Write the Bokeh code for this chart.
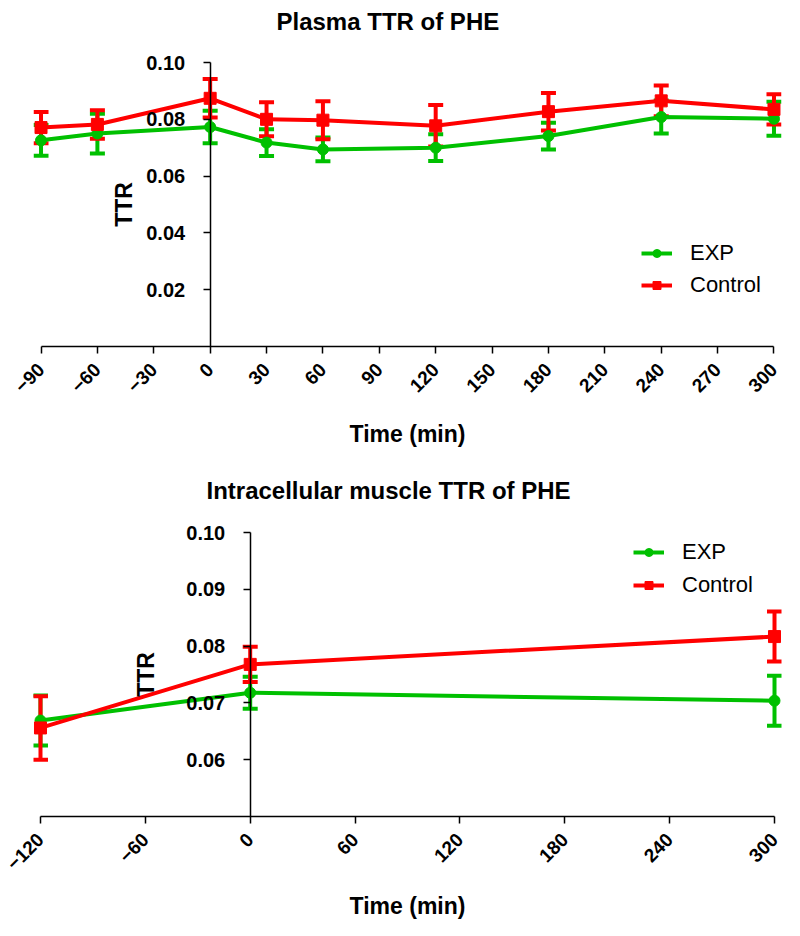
import math
from bokeh.plotting import figure
from bokeh.layouts import column
from bokeh.models import (ColumnDataSource, Whisker, TeeHead, Legend, LegendItem,
                          FixedTicker, NumeralTickFormatter, Range1d)
from bokeh.embed import file_html
from bokeh.resources import INLINE

FONT = "Liberation Sans"
GREEN = "#00C000"
RED = "#FF0000"

# ---- Plasma TTR of PHE ----
plasma_time = [-90, -60, 0, 30, 60, 120, 180, 240, 300]
plasma_exp = [0.0726, 0.0750, 0.0773, 0.0718, 0.0694, 0.0700, 0.0741, 0.0808, 0.0802]
plasma_exp_sem = [0.0054, 0.0070, 0.0057, 0.0047, 0.0042, 0.0047, 0.0047, 0.0058, 0.0060]
plasma_ctrl = [0.0771, 0.0782, 0.0874, 0.0800, 0.0797, 0.0777, 0.0827, 0.0865, 0.0835]
plasma_ctrl_sem = [0.0055, 0.0050, 0.0068, 0.0060, 0.0067, 0.0073, 0.0066, 0.0054, 0.0053]
plasma_xticks = [-90, -60, -30, 0, 30, 60, 90, 120, 150, 180, 210, 240, 270, 300]
plasma_yticks = [0.02, 0.04, 0.06, 0.08, 0.10]

# ---- Intracellular muscle TTR of PHE ----
muscle_time = [-120, 0, 300]
muscle_exp = [0.0669, 0.0718, 0.0704]
muscle_exp_sem = [0.0044, 0.0028, 0.0044]
muscle_ctrl = [0.0656, 0.0768, 0.0817]
muscle_ctrl_sem = [0.0056, 0.0031, 0.0044]
muscle_xticks = [-120, -60, 0, 60, 120, 180, 240, 300]
muscle_yticks = [0.06, 0.07, 0.08, 0.09, 0.10]

series_names = ["EXP", "Control"]


def make_panel(title, times, exp, exp_sem, ctrl, ctrl_sem, xticks, yticks,
               xr, xbounds, yr, ybounds, height, top, frame_h, title_off, title_standoff,
               legend_loc, legend_spacing, ylabel_standoff, xlabel_standoff):
    p = figure(width=784, height=height, x_range=Range1d(*xr), y_range=Range1d(*yr),
               output_backend="svg", toolbar_location=None,
               min_border_left=33, min_border_right=3,
               min_border_top=top, min_border_bottom=height - top - frame_h)
    p.title.text = title
    p.title.text_font = FONT
    p.title.text_font_size = "24px"
    p.title.text_font_style = "bold"
    p.title.text_color = "black"
    p.title.align = "left"
    p.title.vertical_align = "top"
    p.title.offset = title_off
    p.title.standoff = title_standoff
    p.xgrid.visible = False
    p.ygrid.visible = False
    p.outline_line_color = None
    p.background_fill_color = "white"
    p.border_fill_color = "white"

    # x axis
    xa = p.xaxis[0]
    xa.bounds = xbounds
    xa.ticker = FixedTicker(ticks=xticks)
    xa.major_label_orientation = math.pi / 4
    xa.major_label_text_font = FONT
    xa.major_label_text_font_size = "19px"
    xa.major_label_text_font_style = "bold"
    xa.major_label_text_color = "black"
    xa.major_tick_out = 7
    xa.major_tick_in = 0
    xa.minor_tick_out = 0
    xa.minor_tick_in = 0
    xa.axis_line_width = 1.5
    xa.major_tick_line_width = 1.5
    xa.major_label_standoff = 13
    xa.axis_label = "Time (min)"
    xa.axis_label_text_font = FONT
    xa.axis_label_text_font_size = "23px"
    xa.axis_label_text_font_style = "bold"
    xa.axis_label_text_color = "black"
    xa.axis_label_standoff = xlabel_standoff

    # y axis drawn at x = 0
    ya = p.yaxis[0]
    ya.fixed_location = 0
    ya.bounds = ybounds
    ya.ticker = FixedTicker(ticks=yticks)
    ya.formatter = NumeralTickFormatter(format="0.00")
    ya.major_label_text_font = FONT
    ya.major_label_text_font_size = "20px"
    ya.major_label_text_font_style = "bold"
    ya.major_label_text_color = "black"
    ya.major_tick_out = 7
    ya.major_tick_in = 0
    ya.minor_tick_out = 0
    ya.minor_tick_in = 0
    ya.axis_line_width = 1.5
    ya.major_tick_line_width = 1.5
    ya.major_label_standoff = 18
    ya.axis_label = "TTR"
    ya.axis_label_text_font = FONT
    ya.axis_label_text_font_size = "23px"
    ya.axis_label_text_font_style = "bold"
    ya.axis_label_text_color = "black"
    ya.axis_label_standoff = ylabel_standoff

    items = []
    for name, vals, sems, color, marker, msize in [
        (series_names[0], exp, exp_sem, GREEN, "circle", 11),
        (series_names[1], ctrl, ctrl_sem, RED, "square", 12),
    ]:
        src = ColumnDataSource(dict(
            x=times, y=vals,
            lower=[v - s for v, s in zip(vals, sems)],
            upper=[v + s for v, s in zip(vals, sems)],
        ))
        ln = p.line("x", "y", source=src, line_color=color, line_width=4)
        w = Whisker(base="x", upper="upper", lower="lower", source=src,
                    dimension="height", line_color=color, line_width=4,
                    upper_head=TeeHead(size=15, line_color=color, line_width=4),
                    lower_head=TeeHead(size=15, line_color=color, line_width=4))
        p.add_layout(w)
        sc = p.scatter("x", "y", source=src, marker=marker, size=msize,
                       fill_color=color, line_color=color)
        items.append(LegendItem(label=name, renderers=[ln, sc]))

    legend = Legend(items=items, location=legend_loc)
    legend.label_text_font = FONT
    legend.label_text_font_size = "22px"
    legend.label_text_color = "black"
    legend.glyph_width = 31
    legend.glyph_height = 20
    legend.label_height = 20
    legend.spacing = legend_spacing
    legend.label_standoff = 18
    legend.padding = 0
    legend.margin = 0
    legend.border_line_alpha = 0
    legend.background_fill_alpha = 0
    p.add_layout(legend)
    return p


p1 = make_panel("Plasma TTR of PHE", plasma_time, plasma_exp, plasma_exp_sem,
                plasma_ctrl, plasma_ctrl_sem, plasma_xticks, plasma_yticks,
                (-94, 304), (-90, 300), (0, 0.1067), (0, 0.10),
                463, 42, 304, 243, 14, (608, 48), 6, 7, 20)
p2 = make_panel("Intracellular muscle TTR of PHE", muscle_time, muscle_exp, muscle_exp_sem,
                muscle_ctrl, muscle_ctrl_sem, muscle_xticks, muscle_yticks,
                (-124, 304), (-120, 300), (0.05, 0.1025), (0.05, 0.10),
                459, 55, 298, 173, 26, (600, 218), 7, 25, 14)

layout = column(p1, p2)
open("out.html", "w").write(file_html(layout, INLINE))
